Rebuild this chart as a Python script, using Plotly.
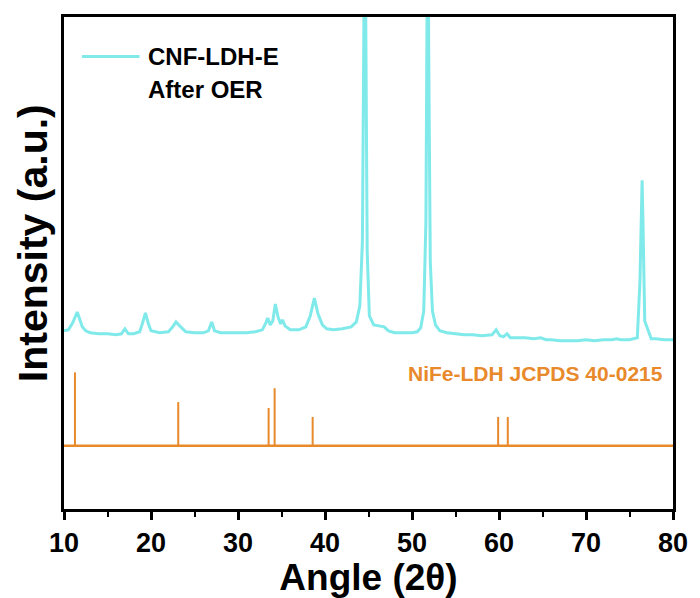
import plotly.graph_objects as go

# ---- data ----
# Measured XRD pattern (CNF-LDH-E after OER), intensity in arbitrary units
angle = [10.0, 10.5, 11.0, 11.3, 11.52, 11.8, 12.1, 12.5, 13.0, 14.0, 15.0, 16.0, 16.6, 17.0, 17.4,
         18.0, 18.7, 19.0, 19.36, 19.7, 20.0, 21.0, 22.0, 22.5, 22.87, 23.3, 24.0, 25.0, 26.0,
         26.6, 26.98, 27.3, 28.0, 29.0, 30.0, 31.0, 32.0, 32.8, 33.2, 33.41, 33.7, 34.0, 34.29,
         34.6, 34.9, 35.12, 35.4, 36.0, 37.0, 37.8, 38.3, 38.78, 39.2, 39.7, 40.2, 41.0, 42.0,
         43.0, 43.6, 44.0, 44.3, 44.47, 44.57, 44.68, 44.85, 45.1, 45.6, 46.2, 46.8, 47.3, 48.0,
         49.0, 50.0, 50.6, 51.0, 51.35, 51.6, 51.73, 51.82, 51.93, 52.1, 52.35, 52.7, 53.2, 54.0,
         55.0, 56.0, 57.0, 58.0, 59.2, 59.67, 60.1, 60.5, 60.93, 61.3, 62.0, 63.0, 64.0, 64.8,
         65.4, 66.0, 67.0, 68.0, 69.0, 70.0, 71.0, 72.0, 73.0, 73.5, 74.0, 75.0, 75.9, 76.2,
         76.35, 76.45, 76.55, 76.75, 77.5, 78.0, 79.0, 80.0]
intensity = [180, 181, 188, 195, 199, 192, 184, 180, 178, 177, 177, 176, 177, 182, 177,
             177, 179, 187, 198, 187, 180, 178, 179, 184, 189, 185, 179, 178, 178,
             180, 189, 180, 178, 178, 178, 178, 179, 181, 188, 193, 186, 190, 207,
             194, 187, 191, 185, 181, 181, 184, 195, 213, 197, 186, 182, 181, 182,
             184, 189, 205, 270, 500, 620, 500, 260, 195, 186, 185, 184, 180, 178,
             178, 178, 179, 183, 200, 290, 500, 620, 450, 250, 200, 186, 180, 178,
             177, 176, 176, 175, 176, 181, 175, 174, 177, 173, 173, 173, 172, 173,
             171, 171, 170, 170, 170, 171, 170, 171, 171, 172, 171, 171, 173, 230,
             300, 332, 290, 190, 172, 172, 171, 171]

# Reference pattern NiFe-LDH JCPDS 40-0215 (stick positions and heights)
ref_angle = [11.26, 23.13, 33.52, 34.21, 38.58, 59.9, 61.01]
ref_height = [74, 44, 38, 58, 29, 29, 29]
ref_offset = 64          # vertical offset of the reference pattern
x_range = [10, 80]
y_range = [0, 497]
x_ticks = [10, 20, 30, 40, 50, 60, 70, 80]

CYAN = "#80E9EA"
ORANGE = "#E8892B"
FONT = "Liberation Sans, Arial, sans-serif"

# stick coordinates for the reference pattern
sx, sy = [], []
for a, h in zip(ref_angle, ref_height):
    sx += [a, a, None]
    sy += [ref_offset, ref_offset + h, None]

fig = go.Figure()
fig.add_trace(go.Scatter(x=angle, y=intensity, mode="lines",
                         line=dict(color=CYAN, width=3), showlegend=False, cliponaxis=True))
fig.add_trace(go.Scatter(x=x_range, y=[ref_offset, ref_offset], mode="lines",
                         line=dict(color=ORANGE, width=2.5), showlegend=False))
fig.add_trace(go.Scatter(x=sx, y=sy, mode="lines",
                         line=dict(color=ORANGE, width=2), showlegend=False))

fig.update_layout(
    width=700, height=598,
    margin=dict(l=64, r=23, t=17, b=84),
    paper_bgcolor="white", plot_bgcolor="white",
    font=dict(family=FONT, color="black"),
    xaxis=dict(range=x_range, tickvals=x_ticks, ticks="outside", ticklen=8, tickwidth=2.5,
               tickcolor="black", showline=True, linecolor="black", linewidth=3, mirror=True,
               showgrid=False, zeroline=False,
               tickfont=dict(size=27, family=FONT, color="black", weight="bold"),
               minor=dict(ticks="outside", ticklen=5, tickwidth=2, dtick=5, tick0=5, tickcolor="black"),
               title=dict(text="Angle (2θ)", standoff=2,
                          font=dict(size=37, family=FONT, color="black", weight="bold"))),
    yaxis=dict(range=y_range, showticklabels=False, ticks="", showline=True, linecolor="black",
               linewidth=3, mirror=True, showgrid=False, zeroline=False),
)

# y-axis title
fig.add_annotation(text="<b>Intensity (a.u.)</b>", xref="paper", yref="paper",
                   x=-0.052, y=0.541, xanchor="center", yanchor="middle", textangle=-90,
                   showarrow=False, font=dict(size=41, family=FONT, color="black"))
# legend
fig.add_shape(type="line", xref="paper", yref="paper", x0=0.0294, x1=0.124, y0=0.9195, y1=0.9195,
              line=dict(color=CYAN, width=3))
fig.add_annotation(text="<b>CNF-LDH-E</b>", xref="paper", yref="paper", x=0.1354, y=0.9195,
                   xanchor="left", yanchor="middle", showarrow=False,
                   font=dict(size=24, family=FONT, color="black"))
fig.add_annotation(text="<b>After OER</b>", xref="paper", yref="paper", x=0.1354, y=0.853,
                   xanchor="left", yanchor="middle", showarrow=False,
                   font=dict(size=24, family=FONT, color="black"))
# reference label
fig.add_annotation(text="<b>NiFe-LDH JCPDS 40-0215</b>", xref="paper", yref="paper", x=0.561, y=0.2763,
                   xanchor="left", yanchor="middle", showarrow=False,
                   font=dict(size=21, family=FONT, color=ORANGE))

fig.write_html("out.html")
